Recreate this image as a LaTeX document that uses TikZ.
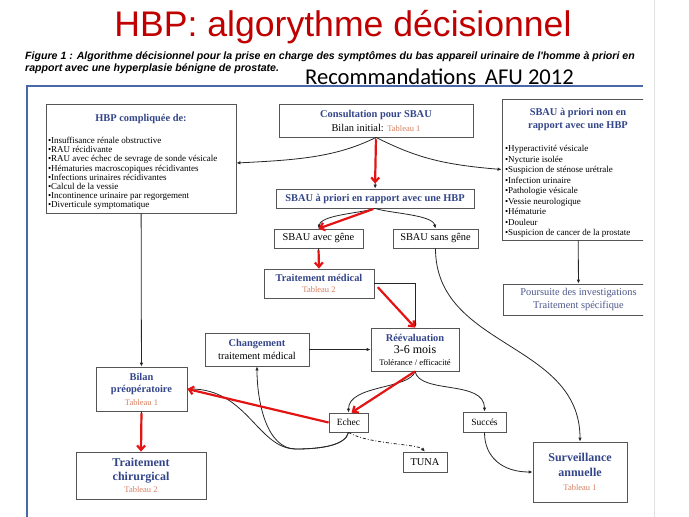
\documentclass[tikz,border=0pt]{standalone}
\usepackage{fontspec}
\setmainfont{Liberation Serif}
\newfontfamily\arialfont{Liberation Sans}
\newfontfamily\calibrifont{Carlito}
\usetikzlibrary{arrows.meta}
\definecolor{hbpred}{RGB}{192,0,0}
\definecolor{hbpblue}{RGB}{52,70,138}
\definecolor{tabcol}{RGB}{214,128,96}
\definecolor{invcol}{RGB}{78,88,140}
\definecolor{framecol}{RGB}{72,104,170}
\definecolor{boxgray}{RGB}{85,85,85}
\definecolor{arrred}{RGB}{228,20,20}
\newcommand{\titre}[1]{{\bfseries\color{hbpblue}#1}}
\newcommand{\tabl}[1]{{\fontsize{8.5}{10}\selectfont\color{tabcol}#1}}
\tikzset{
  box/.style={draw=boxgray, line width=0.8pt, fill=white, inner sep=0pt, align=center, font=\fontsize{10.4}{13}\selectfont},
  arr/.style={-{Latex[length=4pt,width=3.5pt]}, line width=0.8pt, black!85},
  redarr/.style={-{Straight Barb[length=4.5pt,width=8pt]}, line width=2.2pt, arrred},
}
\begin{document}
\begin{tikzpicture}[x=1pt, y=-1pt]
\useasboundingbox (0,0) rectangle (689,517);
\draw[black!12, line width=0.8pt] (654,0) -- (654,517);
\node[anchor=base, font=\arialfont\fontsize{35.6}{40}\selectfont, text=hbpred] (titre) at (343,36) {HBP: algorythme décisionnel};
\node[anchor=base west, inner sep=0pt, font=\arialfont\bfseries\itshape\fontsize{10.6}{12}\selectfont] (fig1) at (25,59) {Figure 1 : Algorithme décisionnel pour la prise en charge des symptômes du bas appareil urinaire de l'homme à priori en};
\node[anchor=base west, inner sep=0pt, font=\arialfont\bfseries\itshape\fontsize{10.6}{12}\selectfont] (fig2) at (25,71.5) {rapport avec une hyperplasie bénigne de prostate.};
\node[anchor=base west, inner sep=0pt, font=\calibrifont\fontsize{22.6}{26}\selectfont] (afu) at (305,84) {Recommandations\, AFU 2012};
\draw[framecol, line width=1.2pt] (643,86) -- (27,86) -- (27,517);

\node[box, minimum width=190pt, minimum height=109pt] (cplx) at (141,158.5) {\rule{0pt}{15pt}\titre{HBP compliquée de:}\\[9pt] {\fontsize{9}{9.2}\selectfont\begin{tabular}[t]{@{}p{186pt}@{}}
\textbullet Insuffisance rénale obstructive\\ \textbullet RAU récidivante\\ \textbullet RAU avec échec de sevrage de sonde vésicale\\ \textbullet Hématuries macroscopiques récidivantes\\ \textbullet Infections urinaires récidivantes\\ \textbullet Calcul de la vessie\\ \textbullet Incontinence urinaire par regorgement\\ \textbullet Diverticule symptomatique
\end{tabular}}};
\node[box, minimum width=194pt, minimum height=33pt] (cons) at (376,120.5) {\titre{Consultation pour SBAU}\\[1pt] Bilan initial: \tabl{Tableau 1}};
\begin{scope}
\clip (0,0) rectangle (643,517);
\node[box, minimum width=152pt, minimum height=141pt] (nonhbp) at (578,169.5) {\rule{0pt}{15pt}\titre{SBAU à priori non en}\\ \titre{rapport avec une HBP}\\[10.5pt] {\fontsize{9}{10.5}\selectfont\begin{tabular}[t]{@{}p{146pt}@{}}
\textbullet Hyperactivité vésicale\\ \textbullet Nycturie isolée\\ \textbullet Suspicion de sténose urétrale\\ \textbullet Infection urinaire\\ \textbullet Pathologie vésicale\\ \textbullet Vessie neurologique\\ \textbullet Hématurie\\ \textbullet Douleur\\ \textbullet Suspicion de cancer de la prostate
\end{tabular}}};
\node[box, minimum width=151pt, minimum height=31pt, text=invcol] (pours) at (578.5,299.5) {Poursuite des investigations\\ Traitement spécifique};
\end{scope}
\node[box, minimum width=198pt, minimum height=19pt] (sbauhbp) at (375,198.5) {\titre{SBAU à priori en rapport avec une HBP}};
\node[box, minimum width=89pt, minimum height=19pt] (avecgene) at (318.5,238.5) {SBAU avec gêne};
\node[box, minimum width=85pt, minimum height=19pt] (sansgene) at (435.5,238.5) {SBAU sans gêne};
\node[box, minimum width=110pt, minimum height=29pt] (trtmed) at (319,283.5) {\titre{Traitement médical}\\[-2pt] \tabl{Tableau 2}};
\node[box, minimum width=104pt, minimum height=33pt] (chgt) at (257,349.5) {\titre{Changement}\\ traitement médical};
\node[box, minimum width=88pt, minimum height=43pt] (reeval) at (415,349.5) {\titre{Réévaluation}\\[-1pt] {\fontsize{12}{13}\selectfont 3-6 mois}\\[-1pt] {\fontsize{8.5}{10}\selectfont Tolérance / efficacité}};
\node[box, minimum width=91pt, minimum height=44pt] (bilan) at (141.5,389) {\titre{Bilan}\\[-0.5pt] \titre{préopératoire}\\[-0.5pt] \tabl{Tableau 1}};
\node[box, minimum width=130pt, minimum height=47pt, font=\fontsize{12}{14}\selectfont] (chir) at (141,475.5) {\titre{Traitement}\\ \titre{chirurgical}\\[-2pt] \tabl{Tableau 2}};
\node[box, minimum width=39pt, minimum height=19pt, font=\fontsize{9.5}{11}\selectfont] (echec) at (348.5,422.5) {Echec};
\node[box, minimum width=43pt, minimum height=20pt, font=\fontsize{9.5}{11}\selectfont] (succes) at (484.5,422) {Succés};
\node[box, minimum width=44pt, minimum height=20pt] (tuna) at (425,462) {TUNA};
\node[box, minimum width=94pt, minimum height=60pt, font=\fontsize{12}{14.5}\selectfont] (surv) at (580,472) {\titre{Surveillance}\\ \titre{annuelle}\\ \tabl{Tableau 1}};
\coordinate (creux) at (296,449);

\draw[arr] (cons.south) .. controls +(-40,20) and +(60,-3) .. ([yshift=-4.5pt]cplx.east);
\draw[arr] (cons.south) .. controls +(40,20) and +(-60,-5) .. (nonhbp.west);
\draw[arr] (cons) -- (sbauhbp);
\draw[redarr, shorten <=2pt, shorten >=5pt] (cons.south) -- (sbauhbp.north);
\draw[arr] (sbauhbp.south) .. controls +(-15,5) and +(3,-14) .. (avecgene.north);
\draw[arr] (sbauhbp.south) .. controls +(15,5) and +(-3,-14) .. (sansgene.north);
\draw[redarr, shorten <=2pt] (sbauhbp.south) -- (avecgene.north);
\draw[arr] (avecgene) -- (trtmed);
\draw[redarr, shorten <=2pt] (avecgene.south) -- (trtmed.north);
\draw[arr] (sansgene.south) .. controls +(0,100) and +(0,-100) .. (surv.north);
\draw[arr] (trtmed.east) -| (reeval.north);
\draw[redarr, shorten <=5pt] (trtmed.east) -- (reeval.north);
\draw[arr] (chgt) -- (reeval);
\draw[arr] (reeval.south) .. controls +(-5,18) and +(0,-28) .. (echec.north);
\draw[arr] (reeval.south) .. controls +(5,23) and +(0,-32) .. (succes.north);
\draw[redarr] (reeval.south) -- ([xshift=3pt]echec.north);
\draw[arr] (echec.south) .. controls +(-3,13) and +(25,0) .. (creux) .. controls +(-38,0) and +(60,0) .. (bilan.east);
\draw[arr] (echec.south) .. controls +(-3,13) and +(25,0) .. (creux) .. controls +(-30,0) and +(0,34) .. (chgt.south);
\draw[redarr] (echec.west) -- (bilan.east);
\draw[arr, dashdotted] (echec.south) .. controls +(20,12) and +(-8,-8) .. (tuna.north);
\draw[arr] (succes.south) .. controls +(0,25) and +(-30,0) .. (surv.west);
\draw[arr] (cplx) -- (bilan);
\draw[arr] (bilan) -- (chir);
\draw[redarr, shorten <=2pt] (bilan.south) -- (chir.north);
\draw[arr] (nonhbp) -- (pours);
\end{tikzpicture}
\end{document}
